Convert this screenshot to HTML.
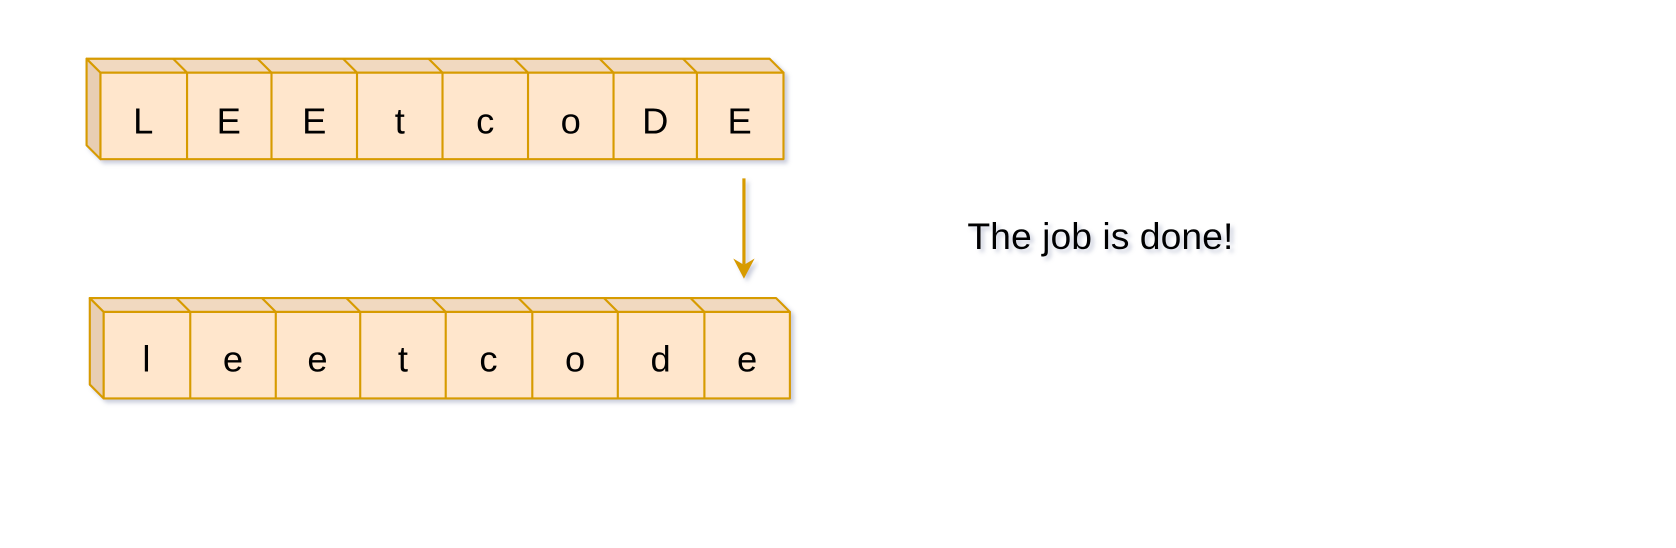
<!DOCTYPE html>
<html><head><meta charset="utf-8"><style>
html,body{margin:0;padding:0;background:#fff;width:1676px;height:548px;overflow:hidden}
svg{display:block}
svg text{font-family:"Liberation Sans",sans-serif;fill:#000}
</style></head><body>
<svg width="1676" height="548" viewBox="0 0 1568 513" preserveAspectRatio="none" xmlns="http://www.w3.org/2000/svg">
<defs><filter id="sh" x="-10%" y="-10%" width="130%" height="140%"><feDropShadow dx="3" dy="3" stdDeviation="2" flood-color="#8890b0" flood-opacity="0.45"/></filter></defs>
<g filter="url(#sh)" stroke="#d79b00" stroke-width="2" stroke-linejoin="round">
<polygon points="81,55 94,68 94,149 81,136" fill="#e8ceb3"/>
<polygon points="81,55 720,55 733,68 94,68" fill="#f1d9c0"/>
<rect x="94" y="68" width="639" height="81" fill="#ffe6cc"/>
<path d="M162,55 L175,68 V149 M241,55 L254,68 V149 M321,55 L334,68 V149 M401,55 L414,68 V149 M481,55 L494,68 V149 M561,55 L574,68 V149 M639,55 L652,68 V149" fill="none"/>
</g>
<g font-size="34" text-anchor="middle">
<text x="134" y="125">L</text><text x="214" y="125">E</text><text x="294" y="125">E</text><text x="374" y="125">t</text><text x="454" y="125">c</text><text x="534" y="125">o</text><text x="613" y="125">D</text><text x="692" y="125">E</text>
</g>
<g filter="url(#sh)" stroke="#d79b00" stroke-width="2" stroke-linejoin="round">
<polygon points="84,279 97,292 97,373 84,360" fill="#e8ceb3"/>
<polygon points="84,279 726,279 739,292 97,292" fill="#f1d9c0"/>
<rect x="97" y="292" width="642" height="81" fill="#ffe6cc"/>
<path d="M165,279 L178,292 V373 M245,279 L258,292 V373 M324,279 L337,292 V373 M404,279 L417,292 V373 M485,279 L498,292 V373 M565,279 L578,292 V373 M646,279 L659,292 V373" fill="none"/>
</g>
<g font-size="34" text-anchor="middle">
<text x="137" y="348">l</text><text x="218" y="348">e</text><text x="297" y="348">e</text><text x="377" y="348">t</text><text x="457" y="348">c</text><text x="538" y="348">o</text><text x="618" y="348">d</text><text x="699" y="348">e</text>
</g>
<g filter="url(#sh)">
<line x1="696" y1="167" x2="696" y2="248" stroke="#d79b00" stroke-width="3"/>
<polygon points="686,242 696,261 706,242 696,248" fill="#d79b00"/>
</g>
<text x="905" y="233" font-size="35" filter="url(#sh)">The job is done!</text>
</svg>
</body></html>
